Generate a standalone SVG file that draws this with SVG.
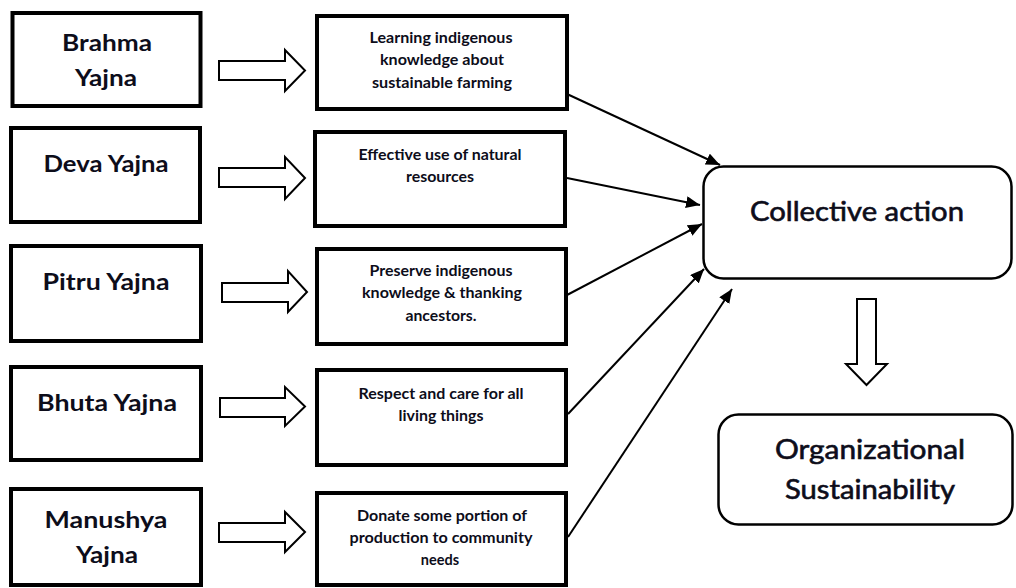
<svg xmlns="http://www.w3.org/2000/svg" width="1016" height="588" viewBox="0 0 1016 588">
<style>
.bx{fill:#fff;stroke:#000;stroke-width:4}
.rb{fill:#fff;stroke:#000;stroke-width:2.5}
.blk{fill:#fff;stroke:#000;stroke-width:2;stroke-linejoin:miter}
.t1{font-family:Lato,"Open Sans","Liberation Sans",sans-serif;font-weight:bold;font-size:22px;fill:#0d0d1a;text-anchor:middle}
.t2{font-family:Lato,"Open Sans","Liberation Sans",sans-serif;font-weight:bold;font-size:14.5px;fill:#0d0d1a;text-anchor:middle}
.t3{font-family:Lato,"Open Sans","Liberation Sans",sans-serif;font-weight:normal;font-size:26px;fill:#0d0d1a;text-anchor:middle;stroke:#0d0d1a;stroke-width:0.6}
.cn{stroke:#000;stroke-width:2;fill:none}
</style>
<defs>
<marker id="ah" viewBox="0 0 14 12" refX="14" refY="6" markerWidth="14" markerHeight="12" markerUnits="userSpaceOnUse" orient="auto">
<path d="M0,0 L14,6 L0,12 Z" fill="#000"/>
</marker>
</defs>
<rect width="1016" height="588" fill="#fff"/>

<g id="brahma"><rect class="bx" x="12.5" y="13" width="188" height="93"/>
<text class="t1" x="107" y="51" textLength="90" lengthAdjust="spacingAndGlyphs">Brahma</text>
<text class="t1" x="106" y="86" textLength="62" lengthAdjust="spacingAndGlyphs">Yajna</text></g>
<g id="deva"><rect class="bx" x="11" y="128" width="189" height="94"/>
<text class="t1" x="106" y="172" textLength="125" lengthAdjust="spacingAndGlyphs">Deva Yajna</text></g>
<g id="pitru"><rect class="bx" x="11" y="246" width="190" height="95"/>
<text class="t1" x="106" y="290" textLength="127" lengthAdjust="spacingAndGlyphs">Pitru Yajna</text></g>
<g id="bhuta"><rect class="bx" x="11" y="367" width="190" height="93"/>
<text class="t1" x="107" y="411" textLength="140" lengthAdjust="spacingAndGlyphs">Bhuta Yajna</text></g>
<g id="manushya"><rect class="bx" x="11" y="489" width="190" height="96"/>
<text class="t1" x="106" y="528" textLength="123" lengthAdjust="spacingAndGlyphs">Manushya</text>
<text class="t1" x="107" y="563" textLength="62" lengthAdjust="spacingAndGlyphs">Yajna</text></g>

<g id="learning"><rect class="bx" x="317" y="16" width="250" height="93"/>
<text class="t2" x="441" y="43" textLength="143" lengthAdjust="spacingAndGlyphs">Learning indigenous</text>
<text class="t2" x="442" y="65" textLength="124" lengthAdjust="spacingAndGlyphs">knowledge about</text>
<text class="t2" x="442" y="88" textLength="140" lengthAdjust="spacingAndGlyphs">sustainable farming</text></g>
<g id="effective"><rect class="bx" x="315" y="132" width="250" height="94"/>
<text class="t2" x="440" y="160" textLength="163" lengthAdjust="spacingAndGlyphs">Effective use of natural</text>
<text class="t2" x="440" y="182" textLength="68" lengthAdjust="spacingAndGlyphs">resources</text></g>
<g id="preserve"><rect class="bx" x="317" y="249" width="249" height="95"/>
<text class="t2" x="441" y="276" textLength="143" lengthAdjust="spacingAndGlyphs">Preserve indigenous</text>
<text class="t2" x="442" y="298" textLength="160" lengthAdjust="spacingAndGlyphs">knowledge &amp; thanking</text>
<text class="t2" x="441" y="321" textLength="71" lengthAdjust="spacingAndGlyphs">ancestors.</text></g>
<g id="respect"><rect class="bx" x="317" y="370" width="249" height="95"/>
<text class="t2" x="441" y="399" textLength="165" lengthAdjust="spacingAndGlyphs">Respect and care for all</text>
<text class="t2" x="441" y="421" textLength="85" lengthAdjust="spacingAndGlyphs">living things</text></g>
<g id="donate"><rect class="bx" x="317" y="493" width="249" height="92"/>
<text class="t2" x="442" y="521" textLength="170" lengthAdjust="spacingAndGlyphs">Donate some portion of</text>
<text class="t2" x="441" y="543" textLength="183" lengthAdjust="spacingAndGlyphs">production to community</text>
<text class="t2" x="440" y="565">needs</text></g>

<g id="collective"><rect class="rb" x="703.5" y="166.5" width="308" height="112" rx="20"/>
<text class="t3" x="857" y="221" textLength="214" lengthAdjust="spacingAndGlyphs">Collective action</text></g>
<g id="organizational"><rect class="rb" x="718.5" y="414.5" width="294" height="110" rx="20"/>
<text class="t3" x="870" y="459" textLength="190" lengthAdjust="spacingAndGlyphs">Organizational</text>
<text class="t3" x="870" y="499" textLength="170" lengthAdjust="spacingAndGlyphs">Sustainability</text></g>

<g id="connectors">
<polygon class="blk" points="219,61 285,61 285,50 305,70.5 285,91 285,80 219,80"/>
<polygon class="blk" points="219,168 285,168 285,157 305,178 285,199 285,187 219,187"/>
<polygon class="blk" points="222,283 288,283 288,271 307,292 288,312 288,302 222,302"/>
<polygon class="blk" points="220,398 285,398 285,387 305,406.5 285,426 285,417 220,417"/>
<polygon class="blk" points="219,523 285,523 285,512 305,532 285,552 285,542 219,542"/>
<polygon class="blk" points="857,299 876,299 876,364 887,364 866.5,385 846,364 857,364"/>
<line class="cn" x1="567" y1="94" x2="720" y2="165" marker-end="url(#ah)"/>
<line class="cn" x1="567" y1="178" x2="700" y2="205" marker-end="url(#ah)"/>
<line class="cn" x1="567" y1="295" x2="702" y2="224" marker-end="url(#ah)"/>
<line class="cn" x1="568" y1="414" x2="704" y2="269" marker-end="url(#ah)"/>
<line class="cn" x1="568" y1="537" x2="732" y2="289" marker-end="url(#ah)"/>
</g>
</svg>
